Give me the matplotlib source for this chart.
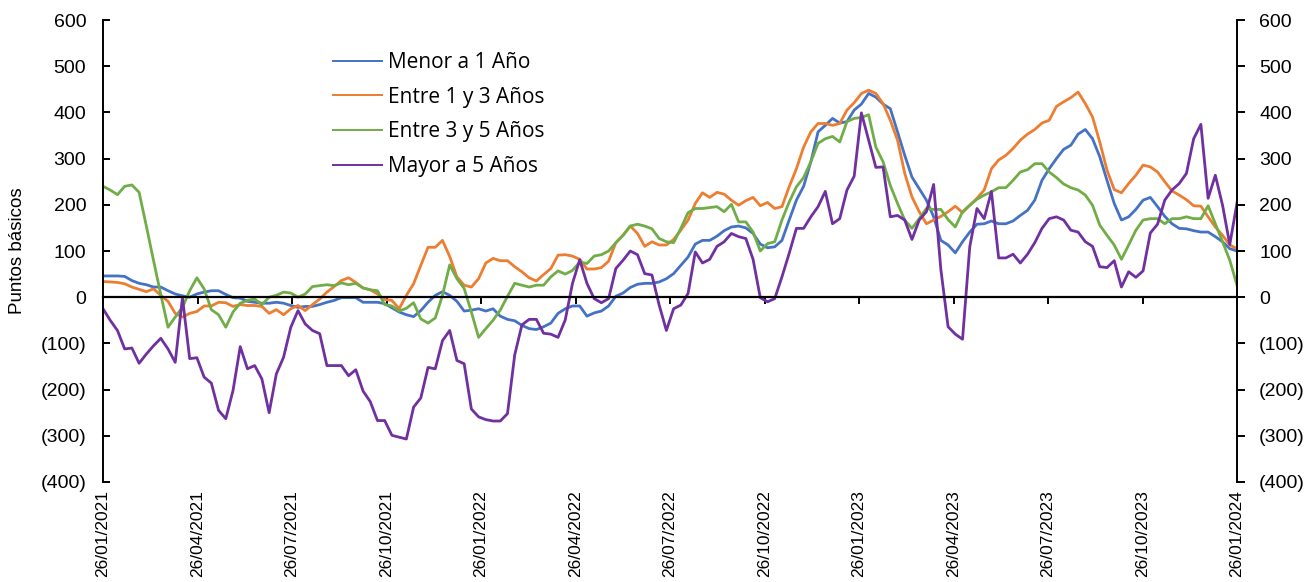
import matplotlib
matplotlib.use('Agg')
import matplotlib.pyplot as plt
import numpy as np

tick_labels = ['26/01/2021', '26/04/2021', '26/07/2021', '26/10/2021', '26/01/2022',
               '26/04/2022', '26/07/2022', '26/10/2022', '26/01/2023', '26/04/2023',
               '26/07/2023', '26/10/2023', '26/01/2024']

menor_1 = [46, 46, 46, 45, 36, 30, 27, 22, 22, 14, 7, 3, 0, 7, 11, 14, 14, 6, -1, -2,
           -9, -11, -13, -13, -11, -13, -18, -22, -20, -20, -16, -11, -7, -1, -1, -1, -11, -11, -11, -14,
           -23, -32, -38, -42, -29, -11, 4, 12, 4, -9, -30, -28, -25, -30, -25, -41, -48, -51, -61, -68,
           -70, -64, -56, -35, -25, -19, -19, -41, -34, -30, -19, 2, 9, 21, 28, 30, 30, 33, 40, 51,
           69, 87, 115, 123, 123, 132, 144, 152, 154, 150, 138, 115, 107, 109, 123, 167, 210, 240, 293, 358,
           372, 387, 377, 380, 405, 418, 441, 433, 418, 408, 358, 307, 260, 235, 210, 174, 123, 113, 96, 120,
           141, 158, 159, 165, 159, 159, 165, 177, 188, 210, 253, 278, 300, 320, 329, 353, 363, 343, 304, 253,
           203, 167, 174, 190, 210, 216, 196, 175, 159, 149, 148, 144, 141, 141, 131, 120, 105, 100]

entre_1_3 = [34, 33, 32, 29, 22, 17, 12, 18, 4, -9, -35, -43, -35, -31, -19, -19, -11, -12, -20, -16,
             -18, -18, -20, -35, -27, -38, -25, -18, -29, -16, -4, 11, 23, 36, 42, 32, 20, 16, 7, -5,
             -7, -25, 4, 29, 69, 108, 108, 123, 88, 44, 26, 22, 40, 74, 84, 79, 79, 66, 55, 42,
             35, 49, 62, 91, 92, 89, 82, 61, 61, 64, 78, 118, 134, 154, 138, 110, 120, 113, 113, 125,
             145, 167, 203, 226, 216, 227, 223, 210, 199, 209, 216, 198, 205, 192, 196, 239, 278, 325, 358, 376,
             376, 372, 376, 405, 421, 441, 448, 441, 419, 383, 340, 268, 217, 185, 159, 167, 175, 185, 197, 183,
             199, 214, 232, 278, 297, 307, 322, 340, 353, 363, 377, 383, 413, 423, 432, 444, 419, 390, 336, 275,
             233, 226, 246, 264, 286, 282, 271, 250, 230, 221, 211, 198, 197, 174, 152, 134, 113, 105]

entre_3_5 = [240, 232, 222, 240, 243, 227, 154, 79, 6, -65, -43, -22, 14, 42, 18, -27, -38, -65, -32, -13,
             -7, -4, -16, 0, 4, 11, 9, 0, 7, 23, 25, 27, 25, 31, 27, 30, 20, 16, 14, -16,
             -19, -30, -24, -12, -47, -56, -45, 4, 70, 40, 19, -32, -87, -68, -50, -28, 2, 30, 26, 22,
             26, 26, 44, 57, 50, 58, 76, 73, 89, 92, 100, 118, 134, 154, 158, 154, 148, 127, 120, 118,
             149, 183, 192, 192, 194, 196, 185, 201, 163, 163, 141, 100, 116, 120, 167, 206, 239, 259, 293, 333,
             343, 348, 336, 380, 387, 389, 395, 325, 293, 242, 203, 167, 149, 170, 192, 190, 190, 168, 152, 185,
             199, 212, 221, 228, 237, 237, 253, 271, 276, 289, 289, 271, 259, 245, 237, 232, 221, 199, 156, 134,
             113, 82, 113, 145, 167, 170, 170, 159, 170, 170, 174, 170, 170, 198, 159, 120, 80, 26]

mayor_5 = [-25, -50, -72, -112, -110, -143, -123, -105, -89, -112, -141, -1, -133, -131, -173, -186, -245, -263, -202, -107,
           -155, -148, -177, -250, -166, -130, -65, -29, -58, -72, -79, -148, -148, -148, -170, -157, -203, -226, -267, -267,
           -299, -303, -307, -238, -218, -152, -155, -94, -72, -137, -144, -242, -259, -265, -268, -268, -252, -125, -60, -48,
           -48, -78, -80, -87, -49, 30, 81, 30, -3, -12, -3, 62, 80, 100, 92, 51, 48, -17, -72, -25,
           -17, 8, 98, 74, 82, 110, 120, 138, 131, 127, 82, -1, -10, -3, 44, 95, 149, 149, 174, 196,
           229, 159, 170, 232, 262, 399, 340, 281, 282, 174, 177, 167, 125, 167, 185, 244, 60, -64, -80, -91,
           109, 192, 170, 229, 85, 85, 93, 74, 93, 118, 149, 170, 174, 167, 145, 141, 120, 110, 66, 64,
           79, 22, 55, 43, 57, 139, 158, 210, 232, 246, 268, 343, 374, 214, 264, 199, 114, 204]

series_names = ['Menor a 1 Año', 'Entre 1 y 3 Años', 'Entre 3 y 5 Años', 'Mayor a 5 Años']
series_colors = ['#4472C4', '#ED7D31', '#70AD47', '#7030A0']
y_ticks = [600, 500, 400, 300, 200, 100, 0, -100, -200, -300, -400]

plt.rcParams['font.family'] = ['Liberation Sans', 'DejaVu Sans']


def fmt(v):
    v = int(round(v))
    return f'({abs(v)})' if v < 0 else f'{v}'


W, H = 1313, 582
fig = plt.figure(figsize=(W / 100, H / 100), dpi=100)
left, right, top, bottom = 103, 1237, 20, 482
ax = fig.add_axes([left / W, 1 - bottom / H, (right - left) / W, (bottom - top) / H])

n = len(menor_1)
x = np.arange(n)
for vals, name, col in zip([menor_1, entre_1_3, entre_3_5, mayor_5], series_names, series_colors):
    ax.plot(x, vals, color=col, lw=2.0, label=name, solid_joinstyle='round')

ax.set_xlim(0, n - 1)
ax.set_ylim(-400, 600)
ax.set_yticks(y_ticks)
ax.set_yticklabels([fmt(v) for v in y_ticks])
ax.tick_params(axis='y', direction='in', length=5, width=1.4, labelsize=14, pad=12, colors='black')

ax.spines['top'].set_visible(False)
ax.spines['right'].set_visible(False)
ax.spines['left'].set_linewidth(1.4)
ax.spines['bottom'].set_position(('data', 0))
ax.spines['bottom'].set_linewidth(1.6)
tick_pos = np.linspace(0, n - 1, len(tick_labels))
ax.set_xticks(tick_pos)
ax.tick_params(axis='x', direction='out', length=5, width=1.4, labelbottom=False)

sec = ax.secondary_xaxis('bottom')
sec.set_xticks(tick_pos)
sec.set_xticklabels(tick_labels, rotation=90, fontsize=12.5)
sec.tick_params(length=0, pad=6)
sec.spines['bottom'].set_visible(False)

ax2 = ax.twinx()
ax2.set_ylim(-400, 600)
ax2.set_yticks(y_ticks)
ax2.set_yticklabels([fmt(v) for v in y_ticks])
ax2.tick_params(axis='y', direction='out', length=6, width=1.4, labelsize=14, pad=10)
for s in ['top', 'bottom', 'left']:
    ax2.spines[s].set_visible(False)
ax2.spines['right'].set_linewidth(1.4)

ax.set_ylabel('Puntos básicos', fontsize=13.5)
ax.yaxis.set_label_coords(-0.068, 0.5)

leg = ax.legend(loc='upper left', bbox_to_anchor=(333 / W, 1 - 52 / H), bbox_transform=fig.transFigure,
                frameon=False, borderpad=0, borderaxespad=0, handlelength=2.35, handletextpad=0.3,
                labelspacing=0.66, prop={'family': 'Open Sans', 'size': 15})
for ln in leg.get_lines():
    ln.set_linewidth(1.4)

fig.savefig('out.png', dpi=100)
